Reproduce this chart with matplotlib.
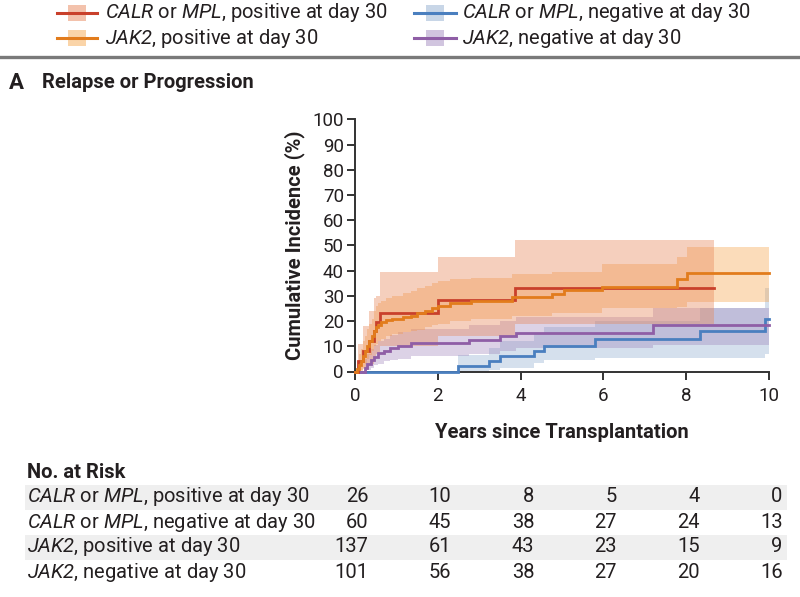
import numpy as np
import matplotlib
matplotlib.use('Agg')
import matplotlib.pyplot as plt
from matplotlib import font_manager, transforms
from matplotlib.patches import Rectangle
from matplotlib.lines import Line2D

# ---------------- data ----------------
group_labels = [r"$\mathsf{CALR}$ or $\mathsf{MPL}$, positive at day 30",
                r"$\mathsf{CALR}$ or $\mathsf{MPL}$, negative at day 30",
                r"$\mathsf{JAK2}$, positive at day 30",
                r"$\mathsf{JAK2}$, negative at day 30"]

# CALR or MPL positive
calr_pos_t = [0, 0.08, 0.2, 0.35, 0.45, 0.5, 0.6, 2.0, 3.86, 8.68]
calr_pos_y = [0, 4, 8, 12, 16, 19.5, 23.3, 28.2, 33.3, 33.3]
calr_pos_hi = [0, 11, 18, 24, 29, 30, 39.3, 45.4, 52.2, 52.2]
calr_pos_lo = [0, 0, 1, 3, 5, 7, 10, 14, 19, 19]

# CALR or MPL negative
calr_neg_t = [0, 2.48, 3.23, 3.51, 4.32, 4.56, 5.8, 8.34, 9.9, 10.0]
calr_neg_y = [0, 2.0, 4.0, 6.0, 8.1, 10.1, 12.8, 16.1, 20.8, 20.8]
calr_neg_hi = [0, 6.5, 9.5, 12, 15, 17.5, 20, 25, 33, 33]
calr_neg_lo = [0, 0, 0.5, 1.5, 3.3, 4.5, 5.3, 5.3, 7, 7]

# JAK2 positive
jak2_pos_t = [0, 0.05, 0.1, 0.15, 0.2, 0.25, 0.3, 0.35, 0.4, 0.45, 0.5, 0.55, 0.62,
              0.75, 0.9, 1.15, 1.35, 1.5, 1.7, 1.85, 2.0, 2.3, 2.8, 3.8, 4.76, 5.04,
              5.97, 7.78, 8.02, 10.0]
jak2_pos_y = [0, 1, 2.5, 4, 6, 8, 10, 12, 14, 16, 17.5, 18.5, 19.5,
              20.3, 21, 21.6, 22.2, 23, 24, 25, 26, 27, 28, 29.7, 30.6, 32.3,
              33.7, 36.6, 39.2, 39.2]
jak2_pos_hi = [0, 4, 7, 9, 12, 14, 17, 19, 21, 24, 26, 27, 28,
               29, 30, 31, 32, 33, 34, 35, 35.8, 36.5, 37, 38.5, 39.6, 39.6,
               42.7, 45.5, 49.5, 49.5]
jak2_pos_lo = [0, 0, 0, 0.5, 1.5, 3, 5, 6.5, 8, 10, 11, 12, 13,
               14, 15, 15.5, 16, 16.5, 17.5, 18.5, 19, 20, 21, 22, 23.2, 23.2,
               25.2, 25.7, 27.5, 27.5]

# JAK2 negative
jak2_neg_t = [0, 0.25, 0.3, 0.38, 0.45, 0.55, 0.7, 0.85, 1.05, 1.35, 2.75, 3.5, 3.88, 7.21, 10.0]
jak2_neg_y = [0, 1.5, 3, 4.6, 5.9, 7.2, 8.2, 9.2, 10, 11.3, 12.5, 14, 15.4, 18.5, 18.5]
jak2_neg_hi = [0, 5, 7, 9, 10.5, 12, 13, 14.5, 15.5, 17, 18.5, 20, 21.5, 25, 27.3]
jak2_neg_lo = [0, 0, 0.5, 1.5, 2.5, 3, 4, 4.5, 5, 6, 7, 8, 9.5, 10.5, 10.5]

risk_times = [0, 2, 4, 6, 8, 10]
risk_calr_pos = [26, 10, 8, 5, 4, 0]
risk_calr_neg = [60, 45, 38, 27, 24, 13]
risk_jak2_pos = [137, 61, 43, 23, 15, 9]
risk_jak2_neg = [101, 56, 38, 27, 20, 16]

x_ticks = [0, 2, 4, 6, 8, 10]
y_ticks = [0, 10, 20, 30, 40, 50, 60, 70, 80, 90, 100]

# ---------------- fonts ----------------
fam = 'Roboto'
plt.rcParams['font.family'] = [fam, 'DejaVu Sans']
plt.rcParams['mathtext.fontset'] = 'custom'
plt.rcParams['mathtext.rm'] = fam
plt.rcParams['mathtext.it'] = fam + ':italic'
plt.rcParams['mathtext.sf'] = fam + ':italic'
plt.rcParams['mathtext.bf'] = fam + ':bold'

TXT = '#231f20'
FS = 14.5

W, H = 800, 597
fig = plt.figure(figsize=(W / 100, H / 100), dpi=100)


def fx(px):
    return px / W


def fy(py):
    return 1 - py / H


# ---------------- legend ----------------
line_cols = ['#c9402b', '#4a7fbf', '#e27c1c', '#8f5ea6']
band_cols = ['#e8875a', '#7d9fc8', '#f5a54a', '#9b7fb8']
band_alpha = [0.40, 0.32, 0.38, 0.35]

leg_items = [(0, 57, 97, 105, 13), (1, 414, 456, 462, 13),
             (2, 57, 97, 105, 38), (3, 414, 456, 462, 38)]
for idx, x0, x1, xt, yc in leg_items:
    xm = (x0 + x1) / 2
    fig.patches.append(Rectangle((fx(xm - 9), fy(yc + 8)), 18 / W, 16 / H,
                                 transform=fig.transFigure, facecolor=band_cols[idx],
                                 alpha=band_alpha[idx] + 0.1, edgecolor='none'))
    fig.lines.append(Line2D([fx(x0), fx(x1)], [fy(yc), fy(yc)], transform=fig.transFigure,
                            color=line_cols[idx], lw=2.2))
    fig.text(fx(xt), fy(yc), group_labels[idx], fontsize=FS, va='center', ha='left', color=TXT)

fig.lines.append(Line2D([0, 1], [fy(56.5), fy(56.5)], transform=fig.transFigure,
                        color='#7a7a7a', lw=2.4))

fig.text(fx(9), fy(83), 'A', fontsize=16, fontweight='bold', va='center', color=TXT)
fig.text(fx(42), fy(83), 'Relapse or Progression', fontsize=14.5, fontweight='bold',
         va='center', color=TXT)

# ---------------- axes ----------------
ax = fig.add_axes([fx(355), fy(371.5), fx(769) - fx(355), fy(119.3) - fy(371.5)])
ax.set_xlim(0, 10)
ax.set_ylim(0, 100)
ax.patch.set_alpha(0)
for s in ['top', 'right']:
    ax.spines[s].set_visible(False)
for s in ['left', 'bottom']:
    ax.spines[s].set_color('#333333')
    ax.spines[s].set_linewidth(1.4)
ax.set_xticks(x_ticks)
ax.set_yticks(y_ticks)
ax.tick_params(direction='out', length=6, width=1.4, color='#333333', labelsize=13.5,
               labelcolor=TXT)
ax.tick_params(axis='y', pad=2)
ax.tick_params(axis='x', pad=5)

series = [
    (calr_neg_t, calr_neg_y, calr_neg_lo, calr_neg_hi, 1),
    (jak2_neg_t, jak2_neg_y, jak2_neg_lo, jak2_neg_hi, 3),
    (jak2_pos_t, jak2_pos_y, jak2_pos_lo, jak2_pos_hi, 2),
    (calr_pos_t, calr_pos_y, calr_pos_lo, calr_pos_hi, 0),
]
for t, y, lo, hi, idx in series:
    ax.fill_between(t, lo, hi, step='post', color=band_cols[idx], alpha=band_alpha[idx],
                    linewidth=0)
for t, y, lo, hi, idx in [series[0], series[1], series[3], series[2]]:
    ax.step(t, y, where='post', color=line_cols[idx], lw=2.0, solid_joinstyle='miter',
            zorder=3, clip_on=False)

ax.set_ylabel('Cumulative Incidence (%)', fontsize=14.5, fontweight='bold', color=TXT,
              labelpad=5)
ax.set_xlabel('Years since Transplantation', fontsize=14.5, fontweight='bold', color=TXT,
              labelpad=13)

# ---------------- number at risk ----------------
fig.text(fx(27), fy(472), 'No. at Risk', fontsize=FS, fontweight='bold', va='center',
         color=TXT)
trans = transforms.blended_transform_factory(ax.transData, fig.transFigure)
risk_rows = [risk_calr_pos, risk_calr_neg, risk_jak2_pos, risk_jak2_neg]
row_y = [497, 522, 547, 572]
for i, (vals, yc) in enumerate(zip(risk_rows, row_y)):
    if i % 2 == 0:
        fig.patches.append(Rectangle((fx(25), fy(yc + 12.5)), fx(787) - fx(25), 25 / H,
                                     transform=fig.transFigure, facecolor='#efefef',
                                     edgecolor='none', zorder=0))
    fig.text(fx(27), fy(yc), group_labels[i], fontsize=FS, va='center', ha='left',
             color=TXT)
    for tt, v in zip(risk_times, vals):
        fig.text(tt + 0.33, fy(yc), str(v), transform=trans, fontsize=FS, va='center',
                 ha='right', color=TXT)

fig.savefig('out.png', dpi=100)
